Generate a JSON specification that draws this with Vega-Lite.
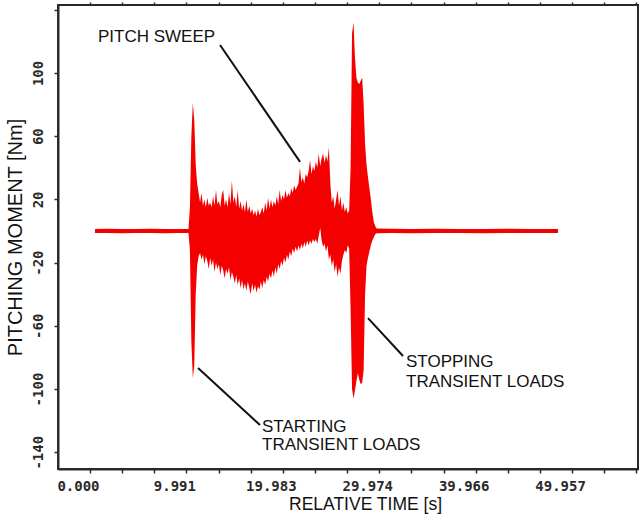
{
  "$schema": "https://vega.github.io/schema/vega-lite/v6.json",
  "width": 580,
  "height": 464,
  "autosize": {"type": "none"},
  "padding": {"left": 58, "top": 5, "right": 4, "bottom": 47},
  "background": "white",
  "config": {
    "view": {"stroke": "#2a2a2a", "strokeWidth": 2},
    "axis": {"grid": false, "labelOverlap": false, "domainColor": "#2a2a2a", "domainWidth": 2, "tickColor": "#2a2a2a", "tickWidth": 1.5}
  },
  "resolve": {"axis": {"x": "independent"}},
  "datasets": {
    "sig": [
      {"t": 1.76, "lo": -1.3, "hi": 1.2},
      {"t": 3.0, "lo": -1.2, "hi": 1.4},
      {"t": 4.5, "lo": -1.4, "hi": 1.2},
      {"t": 6.0, "lo": -1.2, "hi": 1.3},
      {"t": 7.5, "lo": -1.3, "hi": 1.4},
      {"t": 9.0, "lo": -1.4, "hi": 1.2},
      {"t": 10.5, "lo": -1.2, "hi": 1.3},
      {"t": 11.45, "lo": -1.3, "hi": 1.3},
      {"t": 11.6, "lo": -12, "hi": 15},
      {"t": 11.75, "lo": -70, "hi": 60},
      {"t": 11.9, "lo": -93, "hi": 81},
      {"t": 12.05, "lo": -85, "hi": 70},
      {"t": 12.2, "lo": -40, "hi": 42},
      {"t": 12.35, "lo": -22, "hi": 30},
      {"t": 12.5, "lo": -16, "hi": 24},
      {"t": 12.65, "lo": -14, "hi": 18},
      {"t": 12.8, "lo": -18, "hi": 24},
      {"t": 12.95, "lo": -15, "hi": 16},
      {"t": 13.1, "lo": -21, "hi": 20},
      {"t": 13.25, "lo": -16, "hi": 15},
      {"t": 13.4, "lo": -19, "hi": 21},
      {"t": 13.55, "lo": -24, "hi": 16},
      {"t": 13.7, "lo": -17, "hi": 18},
      {"t": 13.85, "lo": -22, "hi": 15},
      {"t": 14.0, "lo": -18, "hi": 22},
      {"t": 14.15, "lo": -26, "hi": 16},
      {"t": 14.3, "lo": -20, "hi": 26},
      {"t": 14.45, "lo": -24, "hi": 17},
      {"t": 14.6, "lo": -21, "hi": 19},
      {"t": 14.75, "lo": -28, "hi": 15},
      {"t": 14.9, "lo": -22, "hi": 23},
      {"t": 15.05, "lo": -25, "hi": 26},
      {"t": 15.2, "lo": -30, "hi": 16},
      {"t": 15.35, "lo": -24, "hi": 20},
      {"t": 15.5, "lo": -27, "hi": 15},
      {"t": 15.65, "lo": -23, "hi": 24},
      {"t": 15.8, "lo": -31, "hi": 17},
      {"t": 15.95, "lo": -26, "hi": 32},
      {"t": 16.1, "lo": -29, "hi": 18},
      {"t": 16.25, "lo": -33, "hi": 22},
      {"t": 16.4, "lo": -28, "hi": 15},
      {"t": 16.55, "lo": -34, "hi": 26},
      {"t": 16.7, "lo": -30, "hi": 14},
      {"t": 16.85, "lo": -36, "hi": 19},
      {"t": 17.0, "lo": -31, "hi": 13},
      {"t": 17.15, "lo": -37, "hi": 17},
      {"t": 17.3, "lo": -33, "hi": 12},
      {"t": 17.45, "lo": -38, "hi": 20},
      {"t": 17.6, "lo": -32, "hi": 12},
      {"t": 17.75, "lo": -36, "hi": 16},
      {"t": 17.9, "lo": -40, "hi": 11},
      {"t": 18.05, "lo": -33, "hi": 14},
      {"t": 18.2, "lo": -38, "hi": 10},
      {"t": 18.35, "lo": -34, "hi": 13},
      {"t": 18.5, "lo": -39, "hi": 9},
      {"t": 18.65, "lo": -35, "hi": 14},
      {"t": 18.8, "lo": -37, "hi": 10},
      {"t": 18.95, "lo": -32, "hi": 12},
      {"t": 19.1, "lo": -36, "hi": 15},
      {"t": 19.25, "lo": -31, "hi": 11},
      {"t": 19.4, "lo": -34, "hi": 18},
      {"t": 19.55, "lo": -29, "hi": 13},
      {"t": 19.7, "lo": -32, "hi": 21},
      {"t": 19.85, "lo": -27, "hi": 14},
      {"t": 20.0, "lo": -30, "hi": 20},
      {"t": 20.15, "lo": -25, "hi": 15},
      {"t": 20.3, "lo": -29, "hi": 19},
      {"t": 20.45, "lo": -23, "hi": 16},
      {"t": 20.6, "lo": -27, "hi": 22},
      {"t": 20.75, "lo": -21, "hi": 17},
      {"t": 20.9, "lo": -24, "hi": 26},
      {"t": 21.05, "lo": -19, "hi": 19},
      {"t": 21.2, "lo": -22, "hi": 23},
      {"t": 21.35, "lo": -17, "hi": 20},
      {"t": 21.5, "lo": -20, "hi": 26},
      {"t": 21.65, "lo": -15, "hi": 21},
      {"t": 21.8, "lo": -18, "hi": 24},
      {"t": 21.95, "lo": -13, "hi": 22},
      {"t": 22.1, "lo": -16, "hi": 27},
      {"t": 22.25, "lo": -11, "hi": 24},
      {"t": 22.4, "lo": -14, "hi": 29},
      {"t": 22.55, "lo": -10, "hi": 26},
      {"t": 22.7, "lo": -13, "hi": 28},
      {"t": 22.85, "lo": -9, "hi": 30},
      {"t": 23.0, "lo": -12, "hi": 40},
      {"t": 23.15, "lo": -8, "hi": 31},
      {"t": 23.3, "lo": -11, "hi": 34},
      {"t": 23.45, "lo": -7, "hi": 30},
      {"t": 23.6, "lo": -10, "hi": 36},
      {"t": 23.75, "lo": -6, "hi": 34},
      {"t": 23.9, "lo": -9, "hi": 38},
      {"t": 24.05, "lo": -6, "hi": 45},
      {"t": 24.2, "lo": -8, "hi": 36},
      {"t": 24.35, "lo": -5, "hi": 41},
      {"t": 24.5, "lo": -7, "hi": 38},
      {"t": 24.65, "lo": -5, "hi": 44},
      {"t": 24.8, "lo": -8, "hi": 40},
      {"t": 24.95, "lo": -3, "hi": 49},
      {"t": 25.1, "lo": 2, "hi": 41},
      {"t": 25.25, "lo": -6, "hi": 46},
      {"t": 25.4, "lo": -10, "hi": 49},
      {"t": 25.55, "lo": -8, "hi": 43},
      {"t": 25.7, "lo": -13, "hi": 48},
      {"t": 25.85, "lo": -9, "hi": 44},
      {"t": 26.0, "lo": -18, "hi": 53},
      {"t": 26.15, "lo": -15, "hi": 30},
      {"t": 26.3, "lo": -22, "hi": 18},
      {"t": 26.45, "lo": -18, "hi": 22},
      {"t": 26.6, "lo": -26, "hi": 14},
      {"t": 26.75, "lo": -21, "hi": 20},
      {"t": 26.9, "lo": -29, "hi": 26},
      {"t": 27.05, "lo": -23, "hi": 16},
      {"t": 27.2, "lo": -27, "hi": 22},
      {"t": 27.35, "lo": -19, "hi": 13},
      {"t": 27.5, "lo": -15, "hi": 18},
      {"t": 27.65, "lo": -12, "hi": 12},
      {"t": 27.8, "lo": -14, "hi": 15},
      {"t": 27.95, "lo": -9, "hi": 11},
      {"t": 28.1, "lo": -11, "hi": 13},
      {"t": 28.25, "lo": -50, "hi": 40},
      {"t": 28.4, "lo": -100, "hi": 125},
      {"t": 28.55, "lo": -106, "hi": 132},
      {"t": 28.7, "lo": -101, "hi": 110},
      {"t": 28.85, "lo": -95, "hi": 97},
      {"t": 29.0, "lo": -90, "hi": 94},
      {"t": 29.15, "lo": -94, "hi": 93},
      {"t": 29.3, "lo": -97, "hi": 95},
      {"t": 29.45, "lo": -96, "hi": 97},
      {"t": 29.6, "lo": -88, "hi": 80},
      {"t": 29.75, "lo": -40, "hi": 55},
      {"t": 29.9, "lo": -22, "hi": 42},
      {"t": 30.05, "lo": -17, "hi": 34},
      {"t": 30.2, "lo": -13, "hi": 27},
      {"t": 30.35, "lo": -9, "hi": 20},
      {"t": 30.5, "lo": -6, "hi": 12},
      {"t": 30.65, "lo": -4, "hi": 6},
      {"t": 30.8, "lo": -2, "hi": 3},
      {"t": 30.95, "lo": -1.5, "hi": 1.5},
      {"t": 32.5, "lo": -1.3, "hi": 1.4},
      {"t": 34.5, "lo": -1.4, "hi": 1.2},
      {"t": 37.0, "lo": -1.2, "hi": 1.4},
      {"t": 39.5, "lo": -1.3, "hi": 1.2},
      {"t": 42.0, "lo": -1.4, "hi": 1.3},
      {"t": 44.5, "lo": -1.2, "hi": 1.4},
      {"t": 47.0, "lo": -1.3, "hi": 1.2},
      {"t": 49.74, "lo": -1.3, "hi": 1.3}
    ],
    "leaders": [
      {"t1": 14.72, "v1": 117.7, "t2": 23.01, "v2": 43.7},
      {"t1": 12.44, "v1": -86.7, "t2": 18.86, "v2": -122.8},
      {"t1": 30.05, "v1": -55.1, "t2": 33.68, "v2": -79.1}
    ],
    "notes": [
      {"t": 2.07, "v": 122.8, "txt": "PITCH SWEEP"},
      {"t": 19.07, "v": -124.1, "txt": "STARTING"},
      {"t": 19.07, "v": -135.4, "txt": "TRANSIENT LOADS"},
      {"t": 33.99, "v": -82.9, "txt": "STOPPING"},
      {"t": 33.99, "v": -95.6, "txt": "TRANSIENT LOADS"}
    ]
  },
  "layer": [
    {
      "data": {"name": "sig"},
      "mark": {"type": "area", "color": "#f40000", "opacity": 1},
      "encoding": {
        "x": {
          "field": "t", "type": "quantitative",
          "scale": {"domain": [-2.07, 58.03], "nice": false, "zero": false},
          "axis": {
            "orient": "bottom",
            "title": "RELATIVE TIME [s]",
            "values": [0, 9.991, 19.983, 29.974, 39.966, 49.957],
            "format": ".3f",
            "labelOverlap": false,
            "ticks": false,
            "labelFont": "DejaVu Sans Mono",
            "labelFontWeight": "bold",
            "labelFontSize": 14,
            "labelColor": "#2a2a2a",
            "labelPadding": 10,
            "labelFlush": false,
            "titleFont": "Liberation Sans",
            "titleFontSize": 17.5,
            "titleFontWeight": "normal",
            "titleColor": "#111",
            "titlePadding": 2,
            "titleX": 307
          }
        },
        "y": {
          "field": "lo", "type": "quantitative",
          "scale": {"domain": [-150.6, 143], "nice": false, "zero": false},
          "axis": {
            "title": "PITCHING MOMENT [Nm]",
            "values": [-140, -120, -100, -80, -60, -40, -20, 0, 20, 40, 60, 80, 100, 120, 140],
            "labelExpr": "datum.value % 40 != 0 && datum.value < 120 ? '' + datum.value : ''",
            "labelOverlap": false,
            "labelAngle": -90,
            "labelAlign": "center",
            "labelBaseline": "bottom",
            "tickSize": 4,
            "labelFont": "DejaVu Sans Mono",
            "labelFontWeight": "bold",
            "labelFontSize": 14,
            "labelColor": "#2a2a2a",
            "labelPadding": 9,
            "labelFlush": false,
            "titleFont": "Liberation Sans",
            "titleFontSize": 20,
            "titleFontWeight": "normal",
            "titleColor": "#111",
            "titlePadding": 6
          }
        },
        "y2": {"field": "hi"}
      }
    },
    {
      "data": {"name": "leaders"},
      "mark": {"type": "rule", "color": "#111", "strokeWidth": 2},
      "encoding": {
        "x": {
          "field": "t1", "type": "quantitative",
          "axis": {
            "orient": "bottom",
            "title": null,
            "labels": false,
            "domain": false,
            "tickSize": 4,
            "values": [1.244, 4.574, 7.905, 11.235, 14.566, 17.896, 21.227, 24.557, 27.888, 31.218, 34.549, 37.879, 41.21, 44.54, 47.871, 51.201, 54.532, 57.862]
          }
        },
        "y": {"field": "v1", "type": "quantitative"},
        "x2": {"field": "t2"},
        "y2": {"field": "v2"}
      }
    },
    {
      "data": {"name": "notes"},
      "mark": {"type": "text", "align": "left", "baseline": "middle", "font": "Liberation Sans", "fontSize": 17, "color": "#111"},
      "encoding": {
        "x": {
          "field": "t", "type": "quantitative",
          "axis": {
            "orient": "top",
            "title": null,
            "labels": false,
            "domain": false,
            "tickSize": 3,
            "values": [1.244, 4.574, 7.905, 11.235, 14.566, 17.896, 21.227, 24.557, 27.888, 31.218, 34.549, 37.879, 41.21, 44.54, 47.871, 51.201, 54.532, 57.862]
          }
        },
        "y": {"field": "v", "type": "quantitative"},
        "text": {"field": "txt"}
      }
    }
  ]
}
